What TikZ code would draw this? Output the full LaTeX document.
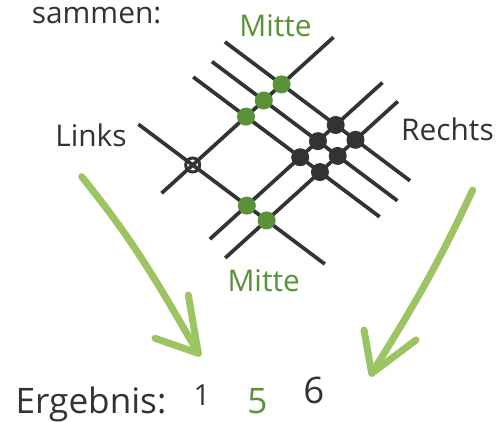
\documentclass[tikz,border=0pt]{standalone}
\usepackage{fontspec}
\setmainfont{Open Sans}
\usetikzlibrary{positioning}
\definecolor{dunkel}{HTML}{333333}
\definecolor{gruen}{HTML}{5A9139}
\definecolor{hellgruen}{HTML}{9CC463}

\begin{document}
\begin{tikzpicture}[
    strich/.style={draw=dunkel, line width=2.1pt},
    punkt/.style={circle, fill=#1, inner sep=0pt, minimum size=0.36cm},
    schrift/.style={text=dunkel, font=\fontsize{17}{20}\selectfont, inner sep=0pt, anchor=base},
    mitte/.style={schrift, text=gruen},
    pfeil/.style={draw=hellgruen, line width=4pt, line cap=round, line join=round}
]
\useasboundingbox (0,0) rectangle (10.02,8.42);

% labels
\node[schrift, anchor=base west] (sammen) at (0.63,7.954) {sammen:};
\node[mitte] (mitteoben) at (5.51,7.686) {Mitte};
\node[mitte] (mitteunten) at (5.274,2.586) {Mitte};
\node[schrift] (links) at (1.82,5.486) {Links};
\node[schrift] (rechts) at (8.95,5.62) {Rechts};

% result
\node[schrift, font=\fontsize{20}{24}\selectfont] (ergebnis) at (1.82,0.154) {Ergebnis:};
\node[schrift, font=\fontsize{16.5}{20}\selectfont] (eins) at (4.04,0.306) {1};
\node[schrift, text=gruen, font=\fontsize{20}{24}\selectfont] (fuenf) at (5.15,0.154) {5};
\node[schrift, font=\fontsize{20.8}{24}\selectfont] (sechs) at (6.277,0.354) {6};

% lines: x along the falling lines, y along the rising ones
\begin{scope}[shift={(3.854cm,5.12cm)}, x={(0.384cm,-0.288cm)}, y={(0.3555cm,0.3225cm)}]
\foreach \t/\a/\b in {0/-2.83/6.88, 3/-2.75/6.96, 4/-2.7/6.96, 5/-2.95/6.69}
    \draw[strich] (\a,\t) -- (\b,\t);
\foreach \s/\a/\b in {0/-1.75/7.92, 2.82/-2.08/7.63, 3.85/-2.33/7.38}
    \draw[strich] (\s,\a) -- (\s,\b);

% crossings
\node[circle, draw=dunkel, line width=1.7pt, inner sep=0pt, minimum size=0.28cm] (kreuz) at (0,0) {};
\foreach \s/\t/\n in {0/3/g1, 0/4/g2, 0/5/g3, 2.82/0/g4, 3.85/0/g5}
    \node[punkt=gruen] (\n) at (\s,\t) {};
\foreach \s [count=\i] in {2.82,3.85}
    \foreach \t in {3,4,5}
        \node[punkt=dunkel] (r\i\t) at (\s,\t) {};
\end{scope}

% arrows
\coordinate (lstart) at (1.634,4.886);
\coordinate (lspitze) at (3.966,1.354);
\coordinate (rstart) at (9.454,4.62);
\coordinate (rspitze) at (7.434,0.954);
\draw[pfeil] (lstart) to[out=-51, in=120] (lspitze);
\draw[pfeil] (lspitze) ++(-0.866,0.3) -- (lspitze) -- ++(-0.2,1.166);
\draw[pfeil] (rstart) to[out=-115, in=58] (rspitze);
\draw[pfeil] (rspitze) ++(-0.154,0.866) -- (rspitze) -- ++(0.886,0.666);
\end{tikzpicture}
\end{document}
